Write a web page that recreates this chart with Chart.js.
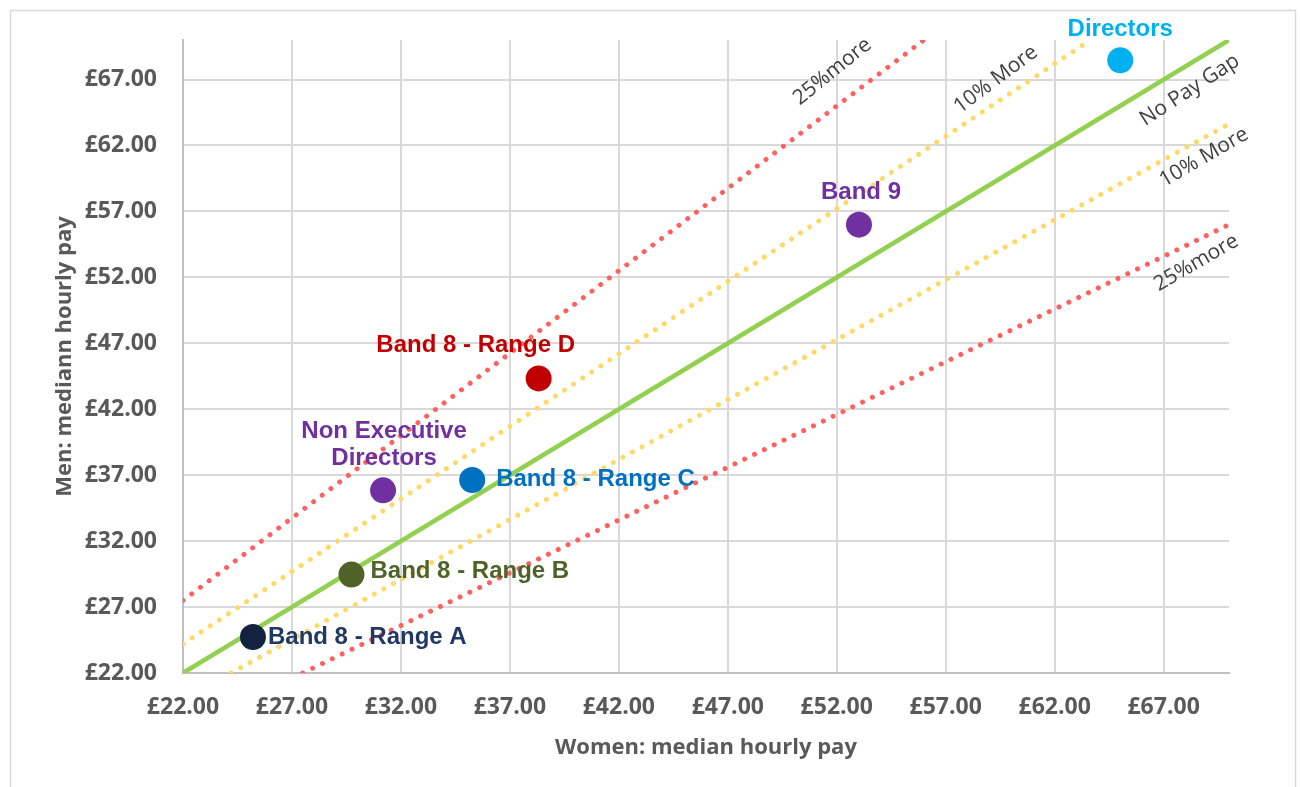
<!DOCTYPE html>
<html>
<head>
<meta charset="utf-8">
<script src="https://cdn.jsdelivr.net/npm/chart.js@4.4.1/dist/chart.umd.min.js"></script>
<style>
  html, body { margin: 0; padding: 0; background: #ffffff; }
  #wrap { width: 1300px; height: 787px; position: relative; }
</style>
</head>
<body>
<div id="wrap"><canvas id="chart" width="1300" height="787"></canvas></div>
<script>
// Pay groups: median hourly pay for women (x) and men (y)
const groups = ['Band 8 - Range A', 'Band 8 - Range B', 'Non Executive Directors',
                'Band 8 - Range C', 'Band 8 - Range D', 'Band 9', 'Directors'];
const womenPay = [25.21, 29.73, 31.18, 35.27, 38.32, 53.02, 65.01];
const menPay   = [24.73, 29.46, 35.85, 36.64, 44.34, 56.00, 68.46];

// Reference lines: men's pay as a multiple of women's pay
const refNames  = ['25%more', '10% More', 'No Pay Gap', '10% More', '25%more'];
const refRatios = [1.25, 1.10, 1.00, 1 / 1.10, 1 / 1.25];

// Axis ticks (both axes)
const tickValues = [22, 27, 32, 37, 42, 47, 52, 57, 62, 67];
const axisMin = 22, axisMax = 70;

// --- styling ---
const groupColors = ['#12233f', '#4f6228', '#7030a0', '#0070c0', '#c00000', '#7030a0', '#00b0f0'];
const labelColors = ['#1f3864', '#4f6228', '#7030a0', '#0070c0', '#c00000', '#7030a0', '#00b0f0'];
// label placement relative to each point (pixels)
const labelPlace = [
  { dx: 15, dy: 0, align: 'left' },
  { dx: 19, dy: -3, align: 'left' },
  { dx: 1, dy: -45, align: 'center', lines: ['Non Executive', 'Directors'] },
  { dx: 24, dy: -1, align: 'left' },
  { dx: -63, dy: -33, align: 'center' },
  { dx: 2, dy: -32, align: 'center' },
  { dx: 0, dy: -31, align: 'center' }
];
const refStyles = [
  { color: '#ff6161', width: 5, dotted: true,  textAt: [51.8, 67.6], angle: 39 },
  { color: '#ffd966', width: 5, dotted: true,  textAt: [59.3, 67.0], angle: 37 },
  { color: '#92d050', width: 4.5, dotted: false, textAt: [68.2, 66.2], angle: 33 },
  { color: '#ffd966', width: 5, dotted: true,  textAt: [68.85, 61.1], angle: 30 },
  { color: '#ff6161', width: 5, dotted: true,  textAt: [68.5, 53.1], angle: 30 }
];

const tickFont = { family: "'Open Sans', sans-serif", size: 23, weight: 'bold' };
const titleFont = { family: "'Open Sans', sans-serif", size: 22, weight: 'bold' };
const grey = '#595959';

function refSegment(r) {
  // endpoints of y = r*x clipped to the plotting square
  const p1 = r >= 1 ? { x: axisMin, y: axisMin * r } : { x: axisMin / r, y: axisMin };
  const p2 = r >= 1 ? { x: axisMax / r, y: axisMax } : { x: axisMax, y: axisMax * r };
  return [p1, p2];
}

const refDatasets = refRatios.map((r, i) => ({
  type: 'line',
  label: refNames[i],
  data: refSegment(r),
  borderColor: refStyles[i].color,
  borderWidth: refStyles[i].width,
  borderDash: refStyles[i].dotted ? [0.01, 10.9] : [],
  borderCapStyle: 'round',
  pointRadius: 0,
  fill: false,
  tension: 0,
  clip: 0,
  order: 2
}));

const pointDataset = {
  type: 'scatter',
  label: 'Groups',
  data: womenPay.map((w, i) => ({ x: w, y: menPay[i] })),
  pointRadius: 13,
  pointHoverRadius: 13,
  pointBackgroundColor: groupColors,
  pointBorderColor: groupColors,
  pointBorderWidth: 0,
  order: 1
};

// outer frame of the chart
const framePlugin = {
  id: 'frame',
  beforeDraw(chart) {
    const ctx = chart.ctx;
    ctx.save();
    ctx.fillStyle = '#ffffff';
    ctx.fillRect(0, 0, chart.width, chart.height);
    ctx.strokeStyle = '#d9d9d9';
    ctx.lineWidth = 1.5;
    ctx.strokeRect(10.5, 10.5, 1285, 800);
    ctx.restore();
  }
};

// group names beside points and captions along reference lines
const labelPlugin = {
  id: 'labels',
  afterDatasetsDraw(chart) {
    const ctx = chart.ctx;
    const xs = chart.scales.x, ys = chart.scales.y;
    ctx.save();
    // captions on the reference lines
    ctx.font = "21px 'Open Sans', sans-serif";
    ctx.fillStyle = '#404040';
    ctx.textAlign = 'center';
    ctx.textBaseline = 'middle';
    refStyles.forEach((s, i) => {
      const px = xs.getPixelForValue(s.textAt[0]);
      const py = ys.getPixelForValue(s.textAt[1]);
      ctx.save();
      ctx.translate(px, py);
      ctx.rotate(-s.angle * Math.PI / 180);
      ctx.fillText(refNames[i], 0, 0);
      ctx.restore();
    });
    // group labels
    const meta = chart.getDatasetMeta(chart.data.datasets.length - 1);
    ctx.font = "bold 24px 'Liberation Sans', Arial, sans-serif";
    meta.data.forEach((pt, i) => {
      const pl = labelPlace[i];
      ctx.fillStyle = labelColors[i];
      ctx.textAlign = pl.align;
      ctx.textBaseline = 'middle';
      const lines = pl.lines || [groups[i]];
      const lh = 27;
      const startY = pt.y + pl.dy - (lines.length - 1) * lh / 2;
      lines.forEach((t, k) => ctx.fillText(t, pt.x + pl.dx, startY + k * lh));
    });
    ctx.restore();
  }
};

function setTicks(scale) {
  scale.ticks = tickValues.map(v => ({ value: v }));
}

new Chart(document.getElementById('chart'), {
  data: { datasets: [...refDatasets, pointDataset] },
  options: {
    responsive: false,
    animation: false,
    events: [],
    layout: { padding: { top: 40, right: 71, left: 0, bottom: 0 } },
    plugins: { legend: { display: false }, tooltip: { enabled: false } },
    scales: {
      x: {
        type: 'linear',
        min: axisMin,
        max: axisMax,
        afterBuildTicks: setTicks,
        afterFit(scale) { scale.height = 114; },
        grid: { color: '#d9d9d9', lineWidth: 2, drawTicks: false },
        border: { color: '#bfbfbf', width: 2 },
        ticks: {
          color: grey, font: tickFont, padding: 21, maxRotation: 0,
          callback: v => '£' + Number(v).toFixed(2)
        },
        title: { display: true, text: 'Women: median hourly pay', color: grey, font: titleFont,
                 padding: { top: 0, bottom: 26 } }
      },
      y: {
        type: 'linear',
        min: axisMin,
        max: axisMax,
        afterBuildTicks: setTicks,
        afterFit(scale) { scale.width = 183; },
        grid: { color: '#d9d9d9', lineWidth: 2, drawTicks: false },
        border: { color: '#bfbfbf', width: 2 },
        ticks: {
          color: grey, font: tickFont, padding: 26,
          callback: v => '£' + Number(v).toFixed(2)
        },
        title: { display: true, text: 'Men: mediann hourly pay', color: grey, font: titleFont,
                 padding: { top: 52, bottom: 0 } }
      }
    }
  },
  plugins: [framePlugin, labelPlugin]
});
</script>
</body>
</html>
